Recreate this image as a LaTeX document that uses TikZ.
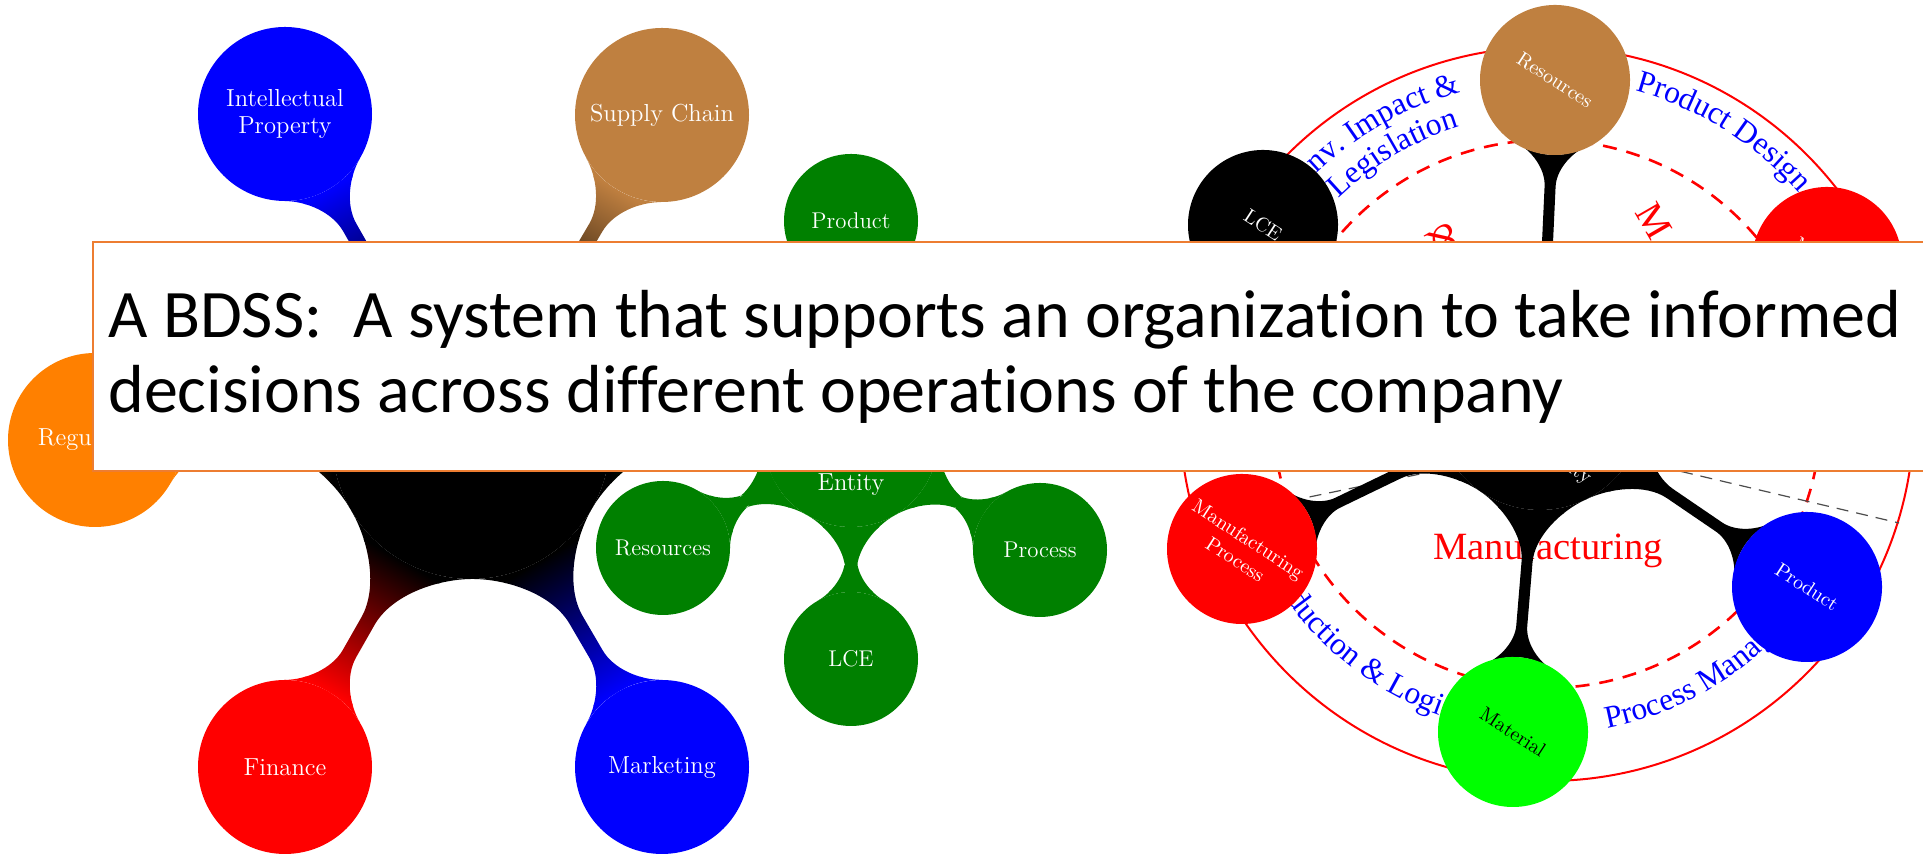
\documentclass[tikz,border=0pt]{standalone}
\usepackage{fontspec}
\newfontfamily\slidefont[Ligatures={NoCommon,NoContextual}]{Carlito}
\newfontfamily\ringfont{Liberation Serif}
\usetikzlibrary{mindmap,backgrounds,decorations.text}

\definecolor{slideorange}{HTML}{ED7D31}
\colorlet{leafgreen}{green!50!black}
\newcommand{\labelfont}{\ringfont\fontsize{15.8}{19}\selectfont}
\newcommand{\redfont}{\ringfont\fontsize{19.3}{22}\selectfont}

\tikzset{
  bubble/.style={circle, inner sep=0pt, outer sep=0pt, text=white, align=center},
  rootbubble/.style={bubble, fill=black, minimum size=139pt},
  mainbubble/.style={bubble, minimum size=87pt, font=\fontsize{12.3}{13.5}\selectfont},
  leafbubble/.style={bubble, fill=leafgreen, minimum size=67pt, font=\fontsize{11.4}{13}\selectfont},
  hubbubble/.style={bubble, fill=black, minimum size=105pt},
  ringbubble/.style={bubble, minimum size=75pt, rotate=-33, font=\fontsize{10}{12}\selectfont},
  rootbar/.style={decoration={start radius=69.5pt, end radius=43.5pt, amplitude=9pt, angle=30}},
  leafbar/.style={decoration={start radius=43.5pt, end radius=33.5pt, amplitude=8pt, angle=30}},
  hubbar/.style={decoration={start radius=52.5pt, end radius=37.5pt, amplitude=8pt, angle=30}},
  ringlabel/.style={decorate, decoration={text along path, text align=center, text color=blue}}
}

\begin{document}
\begin{tikzpicture}[x=0.5pt, y=0.5pt]
  \useasboundingbox (0,0) rectangle (1923,854);

  %Left map
  \node[rootbubble] (rootL) at (471,414) {};
  \node[mainbubble, fill=orange] (regulation) at (95,414) {Regulation};
  \node[mainbubble, fill=blue] (intprop) at (285,740) {Intellectual\\Property};
  \node[mainbubble, fill=brown] (supply) at (662,739) {Supply Chain};
  \node[mainbubble, fill=leafgreen] (entity) at (851,414) {};
  \node[mainbubble, fill=blue] (marketing) at (662,87) {Marketing};
  \node[mainbubble, fill=red] (finance) at (285,87) {Finance};
  \node[text=white, font=\fontsize{12.3}{14}\selectfont, anchor=base] (entitylabel) at (851,363) {Entity};
  \node[leafbubble] (productL) at (851,633) {Product};
  \node[leafbubble] (resourcesL) at (663,306) {Resources};
  \node[leafbubble] (processL) at (1040,304) {Process};
  \node[leafbubble] (lceL) at (851,195) {LCE};

  %Right map
  \coordinate (ctr) at (1547,440);
  \node[hubbubble] (rootR) at (1540,449) {};
  \node[text=white, rotate=-33, font=\fontsize{10}{12}\selectfont] (hublabel) at (1566,389) {Entity};
  \node[ringbubble, fill=brown] (resourcesR) at (1555,774) {Resources};
  \node[ringbubble, fill=black] (lceR) at (1263,629) {LCE};
  \node[ringbubble, fill=red] (machineR) at (1827,592) {Machine};
  \node[ringbubble, fill=red] (mprocR) at (1242,305) {Manufacturing\\Process};
  \node[ringbubble, fill=blue] (productR) at (1807,267) {Product};
  \node[ringbubble, fill=green, text=black] (materialR) at (1513,122) {Material};

  \begin{pgfonlayer}{background}
    \draw[red, line width=1pt] (ctr) circle[radius=367];
    \draw[red, line width=1.3pt, dash pattern=on 7pt off 5pt] (ctr) circle[radius=274];
    \coordinate (vtip) at (1565,410);
    \draw[gray!60!black, line width=0.6pt, dash pattern=on 6pt off 4pt]
      (1290,353) -- (vtip) -- (1899,331);
    %Sector labels
    \path[ringlabel, decoration={text={|\labelfont|Env. Impact {\&}}}]
      ([shift={(171:333)}]ctr) arc[start angle=171, end angle=71, radius=333];
    \path[ringlabel, decoration={text={|\labelfont|Legislation}}]
      ([shift={(170.5:300)}]ctr) arc[start angle=170.5, end angle=70.5, radius=300];
    \path[ringlabel, decoration={text={|\labelfont|Product Design}}]
      ([shift={(108:335)}]ctr) arc[start angle=108, end angle=8, radius=335];
    \path[ringlabel, decoration={text={|\labelfont|Production {\&} Logistics}}]
      ([shift={(184:320)}]ctr) arc[start angle=184, end angle=284, radius=320];
    \path[ringlabel, decoration={text={|\labelfont|Process Management}}]
      ([shift={(255:320)}]ctr) arc[start angle=255, end angle=355, radius=320];
    \node[text=red, font=\redfont, anchor=base] (centrelabel) at (1548,294) {Manufacturing};
    \node[text=red, font=\redfont, rotate=-150, inner sep=0pt] (redamp) at (1443,614) {\&};
    \node[text=red, font=\redfont, rotate=-60, inner sep=0pt] (redm) at (1654,633) {M};

    %Bars
    \path (rootL) to[circle connection bar switch color=from (black) to (orange), rootbar] (regulation);
    \path (rootL) to[circle connection bar switch color=from (black) to (blue), rootbar] (intprop);
    \path (rootL) to[circle connection bar switch color=from (black) to (brown), rootbar] (supply);
    \path (rootL) to[circle connection bar switch color=from (black) to (leafgreen), rootbar] (entity);
    \path (rootL) to[circle connection bar switch color=from (black) to (blue), rootbar] (marketing);
    \path (rootL) to[circle connection bar switch color=from (black) to (red), rootbar] (finance);
    \foreach \leaf in {productL,resourcesL,processL,lceL}
      \path (entity) to[circle connection bar switch color=from (leafgreen) to (leafgreen), leafbar] (\leaf);
    \foreach \leaf in {resourcesR,lceR,machineR,mprocR,productR,materialR}
      \path (rootR) to[circle connection bar switch color=from (black) to (black), hubbar] (\leaf);
  \end{pgfonlayer}

  %Caption box
  \node[draw=slideorange, fill=white, line width=1.2pt, minimum width=924pt, minimum height=114.5pt,
    anchor=north west, inner sep=0pt] (titlebox) at (92,613) {};
  \node[font=\slidefont\fontsize{34}{37.5}\selectfont, anchor=base west, inner sep=0pt] (titleone)
    at (108,516) {A BDSS:\ \ A system that supports an organization to take informed};
  \node[font=\slidefont\fontsize{34}{37.5}\selectfont, anchor=base west, inner sep=0pt] (titletwo)
    at (108,441) {decisions across different operations of the company};
\end{tikzpicture}
\end{document}
